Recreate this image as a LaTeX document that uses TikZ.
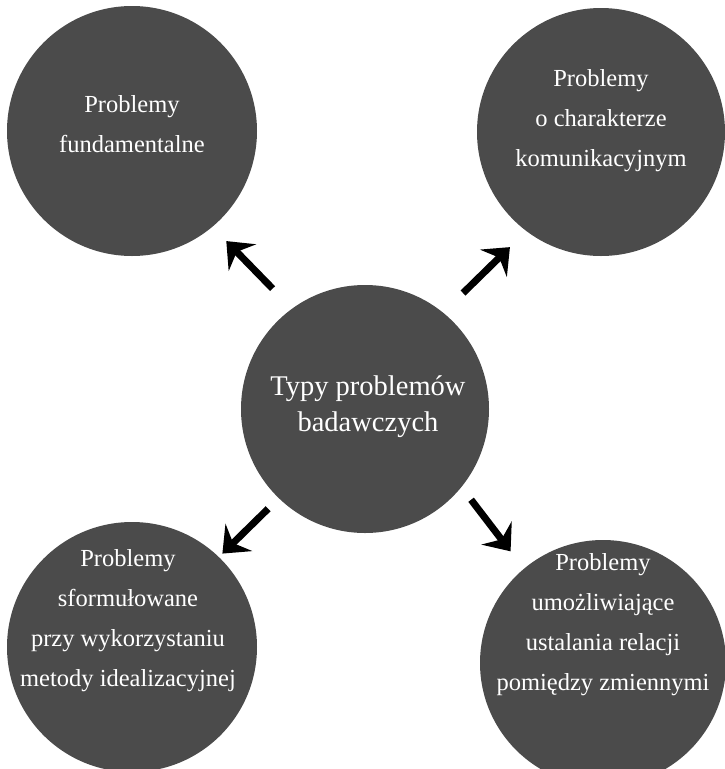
\documentclass[tikz,border=0pt]{standalone}
\usepackage{fontspec}
\setmainfont{Liberation Serif}
\usepackage{tikz}
\usetikzlibrary{arrows.meta}
\usetikzlibrary{positioning}
\definecolor{circlegray}{HTML}{4B4B4B}

\begin{document}
\begin{tikzpicture}[x=1pt,y=-1pt]
  \tikzset{CircleStyle/.style = {
    shape         = circle,
    draw          = none,
    fill          = circlegray,
    inner sep     = 0pt,
    outer sep     = 0pt
    }
  }
  \tikzset{LabelStyle/.style = {
    text          = white,
    align         = center,
    inner sep     = 0pt,
    font          = \fontsize{24.5}{40}\selectfont
    }
  }
  \tikzset{ArrowStyle/.style = {
    draw          = black,
    line width    = 7pt,
    -{Stealth[length=23pt,width=38pt,inset=8pt]}
    }
  }

  \useasboundingbox (0,0) rectangle (724,769);

  \node[CircleStyle, minimum size=248pt](Root) at (365, 409) {};
  \node[CircleStyle, minimum size=250pt](P1) at (132, 131) {};
  \node[CircleStyle, minimum size=248pt](P2) at (601, 132) {};
  \node[CircleStyle, minimum size=250pt](P3) at (132, 647) {};
  \node[CircleStyle, minimum size=246pt](P4) at (603, 663) {};

  \node[LabelStyle, font=\fontsize{28.5}{36}\selectfont](R0) at (368, 407) {Typy problemów\\badawczych};
  \node[LabelStyle](T1) at (132, 124) {Problemy\\fundamentalne};
  \node[LabelStyle](T2) at (601, 121) {Problemy\\o charakterze\\komunikacyjnym};
  \node[LabelStyle](T3) at (128, 621) {Problemy\\sformułowane\\przy wykorzystaniu\\metody idealizacyjnej};
  \node[LabelStyle](T4) at (603, 625) {Problemy\\umożliwiające\\ustalania relacji\\pomiędzy zmiennymi};

  \draw[ArrowStyle, shorten <=28pt, shorten >=20pt](Root.126) -- (P1.-50);
  \draw[ArrowStyle, shorten <=28pt, shorten >=23pt](Root.51) -- (P2.-127);
  \draw[ArrowStyle, shorten <=15pt, shorten >=5pt](Root.-134) -- (P3.46);
  \draw[ArrowStyle, shorten <=16pt, shorten >=22pt](Root.-39) -- (P4.130);
\end{tikzpicture}
\end{document}
